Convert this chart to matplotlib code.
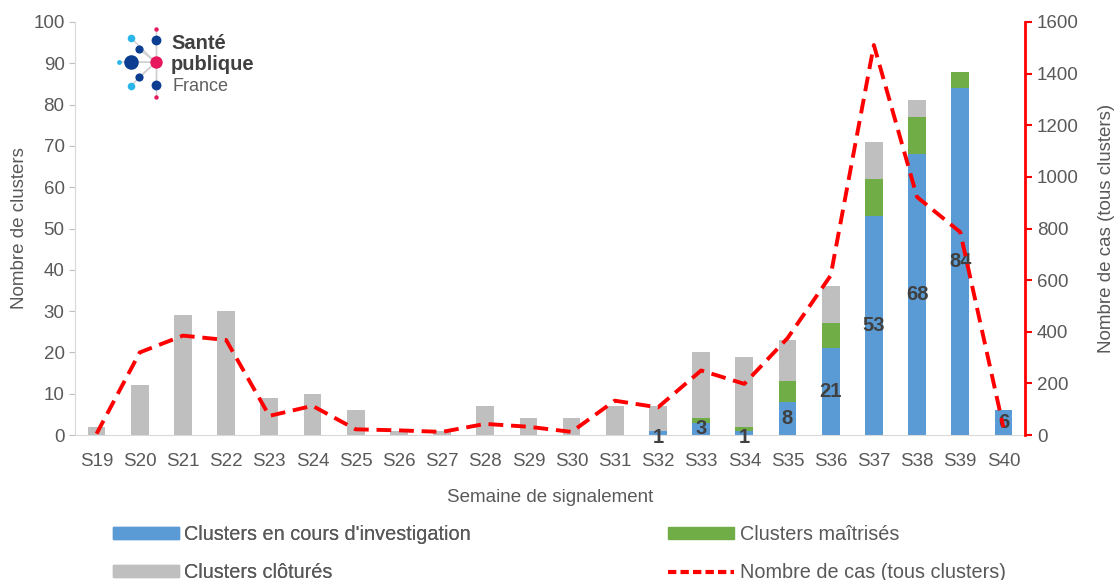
import numpy as np
import matplotlib.pyplot as plt
from matplotlib.lines import Line2D
from matplotlib.patches import Patch

plt.rcParams['font.family'] = ['Liberation Sans', 'DejaVu Sans']

# Données
semaines = ['S19', 'S20', 'S21', 'S22', 'S23', 'S24', 'S25', 'S26', 'S27', 'S28', 'S29',
            'S30', 'S31', 'S32', 'S33', 'S34', 'S35', 'S36', 'S37', 'S38', 'S39', 'S40']
en_cours = [0, 0, 0, 0, 0, 0, 0, 0, 0, 0, 0, 0, 0, 1, 3, 1, 8, 21, 53, 68, 84, 6]
maitrises = [0, 0, 0, 0, 0, 0, 0, 0, 0, 0, 0, 0, 0, 0, 1, 1, 5, 6, 9, 9, 4, 0]
clotures = [2, 12, 29, 30, 9, 10, 6, 1, 1, 7, 4, 4, 7, 6, 16, 17, 10, 9, 9, 4, 0, 0]
nb_cas = [5, 320, 385, 368, 74, 113, 22, 18, 12, 43, 32, 12, 133, 107, 250, 198, 375, 618, 1511, 922, 786, 30]

bleu = '#5B9BD5'
vert = '#70AD47'
gris = '#BFBFBF'
rouge = '#FF0000'
texte = '#595959'
fs = 13.5

x = np.arange(len(semaines))
en_cours = np.array(en_cours)
maitrises = np.array(maitrises)
clotures = np.array(clotures)

fig = plt.figure(figsize=(11.15, 5.8), dpi=100)
ax = fig.add_axes([75 / 1115, 1 - 435 / 580, (1025 - 75) / 1115, (435 - 22) / 580])

w = 0.41
ax.bar(x, en_cours, w, color=bleu, zorder=2)
ax.bar(x, maitrises, w, bottom=en_cours, color=vert, zorder=2)
ax.bar(x, clotures, w, bottom=en_cours + maitrises, color=gris, zorder=2)

# Etiquettes des clusters en cours
for i, v in enumerate(en_cours):
    if v > 0:
        ax.text(x[i], v / 2 - (1.2 if v < 3 else 0), str(v), ha='center', va='center',
                fontsize=14.5, fontweight='bold', color='#404040', zorder=5)

ax.set_xlim(-0.5, len(semaines) - 0.5)
ax.set_ylim(0, 100)
ax.set_yticks(range(0, 101, 10))
ax.set_xticks(x)
ax.set_xticklabels(semaines)
ax.tick_params(axis='both', colors='#BFBFBF', labelcolor=texte, labelsize=fs, length=4)
ax.tick_params(axis='x', length=0, pad=13)
for s in ['top', 'right']:
    ax.spines[s].set_visible(False)
ax.spines['left'].set_color('#D9D9D9')
ax.spines['bottom'].set_color('#D9D9D9')
ax.set_ylabel('Nombre de clusters', fontsize=fs, color=texte, labelpad=4)
ax.set_xlabel('Semaine de signalement', fontsize=fs, color=texte, labelpad=14)

ax2 = ax.twinx()
ax2.plot(x, nb_cas, color=rouge, linestyle=(0, (3.8, 2)), linewidth=2.8, zorder=4)
ax2.set_ylim(0, 1600)
ax2.set_yticks(range(0, 1601, 200))
ax2.tick_params(axis='y', colors=rouge, labelcolor=texte, labelsize=fs, length=5, width=1.5)
for s in ['top', 'left', 'bottom']:
    ax2.spines[s].set_visible(False)
ax2.spines['right'].set_color(rouge)
ax2.spines['right'].set_linewidth(2)
ax2.set_ylabel('Nombre de cas (tous clusters)', fontsize=fs, color=texte, labelpad=14)

# Légende (deux colonnes placées séparément)
opts = dict(loc='center left', frameon=False, fontsize=14.3, labelcolor=texte, handlelength=3.3,
            handleheight=0.5, handletextpad=0.3, labelspacing=0.95, borderpad=0, borderaxespad=0)
leg1 = fig.legend([Patch(color=bleu), Patch(color=gris)],
                  ["Clusters en cours d'investigation", 'Clusters clôturés'],
                  bbox_to_anchor=(113 / 1115, 1 - 553.5 / 580), **opts)
fig.legend([Patch(color=vert), Line2D([0], [0], color=rouge, linestyle=(0, (2, 1)), linewidth=3)],
           ['Clusters maîtrisés', 'Nombre de cas (tous clusters)'],
           bbox_to_anchor=(668 / 1115, 1 - 553.5 / 580), **opts)
fig.add_artist(leg1)

# Logo Santé publique France
lg = fig.add_axes([0, 0, 1, 1], zorder=10)
lg.set_xlim(0, 1115)
lg.set_ylim(580, 0)
lg.axis('off')
centre = (155.7, 62.3)
points = [(131, 62, 110, '#0B3D91'), (119, 62, 12, '#29B6E8'), (155.7, 40, 50, '#0B3D91'),
          (155.7, 29.3, 10, '#E6175C'), (155.7, 85, 50, '#0B3D91'), (155.7, 96.7, 10, '#E6175C'),
          (139.3, 49.3, 35, '#0B3D91'), (131, 38, 30, '#29B6E8'), (139.3, 76.7, 35, '#0B3D91'),
          (131, 85.7, 30, '#29B6E8')]
for px, py, s, c in points:
    lg.plot([centre[0], px], [centre[1], py], color='#D0D0D0', linewidth=1, zorder=1)
for px, py, s, c in points:
    lg.scatter(px, py, s=s, color=c, zorder=2, linewidths=0)
lg.scatter(*centre, s=80, color='#E6175C', zorder=3, linewidths=0)
lg.text(171, 49, 'Santé', fontsize=14.5, fontweight='bold', color='#404040', va='baseline')
lg.text(171, 70, 'publique', fontsize=14.5, fontweight='bold', color='#404040', va='baseline')
lg.text(172, 91, 'France', fontsize=13, color='#606060', va='baseline')

fig.savefig('out.png', dpi=100)
